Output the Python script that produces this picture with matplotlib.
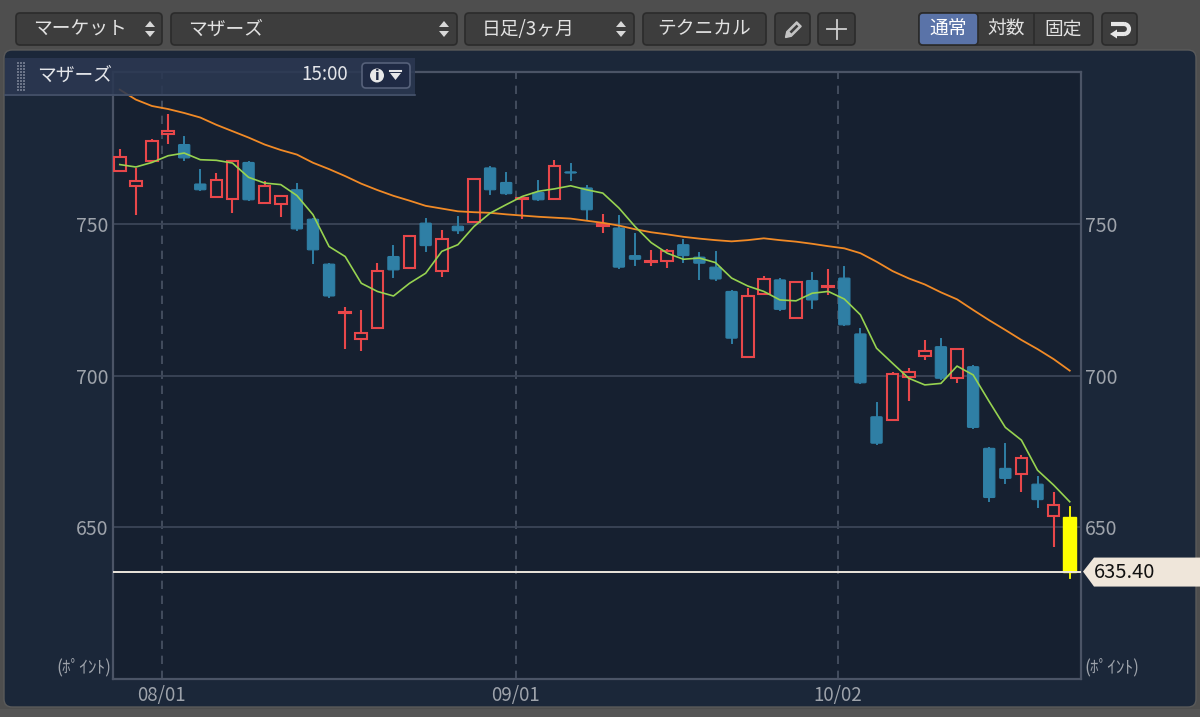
import matplotlib
matplotlib.use('Agg')
import matplotlib.pyplot as plt
from matplotlib.patches import Rectangle, FancyBboxPatch, Polygon, Circle, Arc
import numpy as np

plt.rcParams['font.family'] = ['Noto Sans CJK JP', 'DejaVu Sans']

# ---------------- data ----------------
dates = ["07/27", "07/28", "07/31",
         "08/01", "08/02", "08/03", "08/04", "08/07", "08/08", "08/09", "08/10",
         "08/14", "08/15", "08/16", "08/17", "08/18", "08/21", "08/22", "08/23",
         "08/24", "08/25", "08/28", "08/29", "08/30", "08/31",
         "09/01", "09/04", "09/05", "09/06", "09/07", "09/08", "09/11", "09/12",
         "09/13", "09/14", "09/15", "09/19", "09/20", "09/21", "09/22", "09/25",
         "09/26", "09/27", "09/28", "09/29",
         "10/02", "10/03", "10/04", "10/05", "10/06", "10/10", "10/11", "10/12",
         "10/13", "10/16", "10/17", "10/18", "10/19", "10/20", "10/23"]

opens = [767.5, 762.4, 770.8,
         779.7, 776.1, 763.1, 758.7, 758.3, 770.2, 757.0, 756.5,
         761.2, 751.5, 736.7, 720.7, 712.0, 715.6, 739.2, 735.4,
         750.2, 734.3, 749.2, 750.6, 768.4, 763.6,
         758.2, 760.3, 758.3, 767.0, 761.8, 749.3, 748.6, 739.5,
         737.3, 737.6, 743.1, 739.0, 735.7, 727.7, 706.2, 726.9,
         731.5, 718.9, 731.3, 729.2,
         732.1, 713.7, 686.4, 685.3, 699.6, 706.5, 709.5, 699.1,
         702.9, 676.0, 669.4, 667.5, 664.2, 653.7, 653.4]

highs = [774.6, 768.4, 778.0,
         786.0, 778.5, 767.8, 766.7, 770.8, 770.4, 764.0, 759.4,
         763.2, 751.7, 736.9, 722.7, 721.6, 737.0, 742.8, 746.0,
         751.5, 748.0, 752.1, 765.1, 768.6, 766.7,
         759.0, 764.0, 771.1, 769.7, 762.5, 753.3, 752.4, 746.7,
         741.3, 741.6, 744.5, 740.3, 740.7, 727.9, 728.8, 732.9,
         731.7, 731.0, 733.7, 735.0,
         735.7, 715.2, 690.8, 701.3, 702.4, 711.7, 711.9, 709.0,
         703.1, 676.2, 677.3, 673.8, 666.6, 661.7, 656.7]

lows = [767.3, 753.0, 770.6,
        776.3, 770.9, 761.0, 758.5, 753.7, 757.7, 756.8, 752.2,
        748.0, 737.2, 726.0, 708.6, 708.1, 715.4, 732.6, 735.2,
        741.1, 732.6, 746.9, 750.4, 759.9, 759.7,
        751.5, 757.7, 758.1, 764.5, 751.3, 747.1, 735.5, 736.5,
        736.0, 735.4, 737.4, 731.7, 731.6, 710.8, 706.0, 726.7,
        721.6, 718.7, 722.2, 726.6,
        716.5, 697.4, 677.5, 685.1, 691.7, 705.1, 698.9, 697.6,
        682.7, 658.7, 664.6, 661.7, 656.7, 643.5, 633.3]

closes = [771.9, 764.0, 777.2,
          780.6, 771.7, 761.2, 764.3, 770.6, 757.9, 762.3, 759.2,
          748.3, 741.4, 726.2, 721.0, 714.1, 734.5, 734.8, 745.8,
          742.8, 745.0, 747.7, 764.8, 761.2, 759.9,
          758.5, 757.9, 768.9, 766.7, 754.6, 750.0, 735.7, 738.3,
          737.6, 740.9, 739.5, 737.0, 731.8, 712.3, 726.3, 731.7,
          721.8, 730.8, 724.9, 729.5,
          716.7, 697.6, 677.7, 700.4, 701.1, 708.1, 699.1, 708.7,
          682.9, 659.8, 666.1, 672.9, 659.1, 657.3, 635.4]

ma5 = [769.5, 768.7, 770.2,
       772.4, 773.3, 771.1, 770.9, 770.0, 765.3, 763.4, 762.9,
       759.3, 753.0, 742.5, 739.2, 730.4, 727.7, 726.2, 730.4,
       733.7, 740.9, 743.1, 749.1, 753.5, 756.3,
       759.0, 760.7, 761.5, 762.5, 761.2, 760.1, 755.2, 749.1,
       743.8, 740.3, 738.3, 738.7, 737.2, 732.1, 729.5, 727.7,
       724.9, 724.6, 727.1, 727.7,
       725.2, 720.0, 709.0, 704.0, 699.1, 696.9, 697.4, 703.1,
       700.2, 691.4, 682.9, 678.7, 668.8, 663.9, 658.4]

ma25 = [794.2, 790.9, 788.8,
        787.8, 786.5, 785.0, 782.6, 780.5, 778.4, 776.1, 774.3,
        772.8, 770.1, 768.0, 765.7, 763.2, 761.1, 759.2, 757.6,
        755.9, 755.0, 754.1, 753.8, 753.6, 753.1,
        752.7, 752.3, 752.0, 751.7, 751.0, 750.3, 749.4, 748.2,
        747.2, 746.5, 745.7, 745.1, 744.6, 744.2, 744.6, 745.2,
        744.6, 744.1, 743.4, 742.6,
        741.9, 740.3, 737.5, 734.4, 732.0, 730.0, 727.4, 725.1,
        721.6, 718.2, 715.0, 711.7, 708.7, 705.4, 701.6]

last_price = 635.40
y_ticks = [650, 700, 750]
unit_label = "(ﾎﾟｲﾝﾄ)"

# ---------------- style ----------------
W, H = 1200, 717
C_FRAME = '#4e4e4e'
C_PANEL = '#1b2739'
C_PLOT = '#162030'
C_UP = '#e8474a'
C_DOWN = '#2f7fa5'
C_LAST = '#ffff00'
C_MA5 = '#97d350'
C_MA25 = '#f18a26'
C_GRID = '#3b4557'
C_TXT = '#9ea3ab'

fig = plt.figure(figsize=(W / 100, H / 100), dpi=100, facecolor=C_FRAME)

# background axes in pixel coordinates (top-left origin)
bg = fig.add_axes([0, 0, 1, 1], zorder=0)
bg.set_xlim(0, W)
bg.set_ylim(H, 0)
bg.axis('off')

bg.add_patch(FancyBboxPatch((4, 50), W - 8, 657, boxstyle="round,pad=0,rounding_size=8",
                            fc=C_PANEL, ec='#5a5a5a', lw=1))


def button(x0, x1, y0=13, y1=45, fc='#3d3d3d'):
    bg.add_patch(FancyBboxPatch((x0, y0), x1 - x0, y1 - y0,
                                boxstyle="round,pad=0,rounding_size=4",
                                fc=fc, ec='#2b2b2b', lw=1.2))


def updown(x):
    bg.add_patch(Polygon([[x - 5, 27], [x + 5, 27], [x, 21]], closed=True, fc='#d8d8d8', ec='none'))
    bg.add_patch(Polygon([[x - 5, 31], [x + 5, 31], [x, 37]], closed=True, fc='#d8d8d8', ec='none'))


tb_fs = 13.5
tb_col = '#e2e2e2'
button(16, 162)
bg.text(33, 29, "マーケット", fontsize=tb_fs, color=tb_col, va='center', ha='left')
updown(150)
button(171, 457)
bg.text(188, 29, "マザーズ", fontsize=tb_fs, color=tb_col, va='center', ha='left')
updown(444)
button(465, 634)
bg.text(482, 29, "日足/3ヶ月", fontsize=tb_fs, color=tb_col, va='center', ha='left')
updown(621)
button(643, 766)
bg.text(704.5, 29, "テクニカル", fontsize=tb_fs, color=tb_col, va='center', ha='center')
button(775, 810)
# pencil icon
d = np.array([1, -1]) / np.sqrt(2)
nrm = np.array([1, 1]) / np.sqrt(2)
tip = np.array([785.5, 37.5])
p1 = tip + d * 5 + nrm * 3.2
p2 = tip + d * 5 - nrm * 3.2
p3 = tip + d * 19 - nrm * 3.2
p4 = tip + d * 19 + nrm * 3.2
bg.add_patch(Polygon([tip, p1, p4, p3, p2], closed=True, fc='#c4c4c4', ec='#c4c4c4', lw=1))
bg.add_patch(Polygon([tip + d * 7 + nrm * 1.3, tip + d * 17 + nrm * 1.3,
                      tip + d * 17 - nrm * 1.3, tip + d * 7 - nrm * 1.3],
                     closed=True, fc='#3d3d3d', ec='none'))
button(818, 855)
bg.plot([827, 846], [29, 29], color='#d0d0d0', lw=1.3)
bg.plot([836.5, 836.5], [19.5, 38.5], color='#d0d0d0', lw=1.3)
# segmented control
button(919, 1093)
bg.add_patch(FancyBboxPatch((919, 13), 59, 32, boxstyle="round,pad=0,rounding_size=4",
                            fc='#5a73a8', ec='#2b2b2b', lw=1.2))
bg.plot([1034, 1034], [14, 44], color='#2b2b2b', lw=1.2)
bg.text(948.5, 29, "通常", fontsize=tb_fs, color='white', va='center', ha='center')
bg.text(1006, 29, "対数", fontsize=tb_fs, color=tb_col, va='center', ha='center')
bg.text(1063.5, 29, "固定", fontsize=tb_fs, color=tb_col, va='center', ha='center')
button(1102, 1137)
bg.plot([1111, 1124], [24, 24], color='#e6e6e6', lw=3, solid_capstyle='butt')
bg.add_patch(Arc((1124, 29), 10, 10, theta1=-90, theta2=90, color='#e6e6e6', lw=3))
bg.plot([1124, 1116], [34, 34], color='#e6e6e6', lw=3, solid_capstyle='butt')
bg.add_patch(Polygon([[1110, 34], [1117, 29.5], [1117, 38.5]], closed=True, fc='#e6e6e6', ec='none'))

# bottom strip
bg.add_patch(Rectangle((0, 709), W, 8, fc='#555555', ec='none'))

# ---------------- main chart ----------------
ax = fig.add_axes([113 / W, 1 - 679 / H, (1081 - 113) / W, (679 - 72) / H], zorder=1)
ax.set_facecolor(C_PLOT)
x = np.arange(len(dates))
ax.set_xlim(-0.42, 59.7)
ax.set_ylim(600, 800)

# month separators
month_pos = [i for i in range(1, len(dates)) if dates[i][:2] != dates[i - 1][:2]]
for i in month_pos:
    ax.axvline(i - 0.4, color='#4a5466', lw=1.2, ls=(0, (5, 4)), zorder=1)
for yv in y_ticks:
    ax.axhline(yv, color=C_GRID, lw=1.3, zorder=1)

# candles
bw = 0.8
n = len(dates)
for i in range(n):
    o, h, l, c = opens[i], highs[i], lows[i], closes[i]
    top, bot = max(o, c), min(o, c)
    if i == n - 1:
        col = C_LAST
        ax.plot([x[i], x[i]], [l, h], color=col, lw=1.3, zorder=3)
        ax.add_patch(Rectangle((x[i] - bw / 2, bot), bw, top - bot, fc=col, ec=col, lw=1.0, zorder=4))
    elif c >= o:
        col = C_UP
        ax.plot([x[i], x[i]], [top, h], color=col, lw=1.5, zorder=3, solid_capstyle='butt')
        ax.plot([x[i], x[i]], [l, bot], color=col, lw=1.5, zorder=3, solid_capstyle='butt')
        ax.add_patch(Rectangle((x[i] - bw / 2 + 0.04, bot), bw - 0.08, max(top - bot, 0.3),
                               fc=C_PLOT, ec=col, lw=1.5, zorder=4))
    else:
        col = C_DOWN
        ax.plot([x[i], x[i]], [l, h], color=col, lw=1.4, zorder=3)
        ax.add_patch(FancyBboxPatch((x[i] - bw / 2 + 0.05, bot), bw - 0.1, max(top - bot, 0.4),
                                    boxstyle="round,pad=0,rounding_size=0.08",
                                    mutation_aspect=3.0, fc=col, ec=col, lw=0.8, zorder=4))

ax.plot(x, ma25, color=C_MA25, lw=1.3, zorder=5)
ax.plot(x, ma5, color=C_MA5, lw=1.2, zorder=5)
ax.axhline(last_price, color='#ece6dc', lw=1.4, zorder=6)

ax.set_yticks(y_ticks)
ax.set_yticklabels([str(v) for v in y_ticks])
ax.set_xticks([i - 0.4 for i in month_pos])
ax.set_xticklabels([dates[i] for i in month_pos])
ax.tick_params(axis='y', which='both', length=0, labelleft=True, labelright=True,
               labelsize=14, labelcolor=C_TXT, pad=3)
ax.tick_params(axis='x', length=0, labelsize=13.5, labelcolor=C_TXT, pad=4)
for s in ax.spines.values():
    s.set_color('#4b5466')
    s.set_linewidth(1.6)

# ---------------- overlay ----------------
ov = fig.add_axes([0, 0, 1, 1], zorder=3)
ov.set_xlim(0, W)
ov.set_ylim(H, 0)
ov.axis('off')
ov.patch.set_alpha(0)

# header bar
ov.add_patch(Rectangle((5, 58), 410, 38, fc='#2b3852', ec='none', alpha=0.88))
ov.plot([5, 415], [95, 95], color='#46526a', lw=1.2)
for gx in (18, 21, 24):
    for gy in range(63, 93, 3):
        ov.add_patch(Rectangle((gx - 0.8, gy - 0.8), 1.6, 1.6, fc='#6b7488', ec='none'))
ov.text(37, 75, "マザーズ", fontsize=13.5, color='#e4e6ea', va='center', ha='left')
ov.text(348, 75, "15:00", fontsize=13.5, color='#e4e6ea', va='center', ha='right')
ov.add_patch(FancyBboxPatch((362, 63), 48, 25, boxstyle="round,pad=0,rounding_size=4",
                            fc='#1f2a44', ec='#56617a', lw=1.2))
ov.add_patch(Circle((377, 75.5), 7, fc='#e8e8e8', ec='none'))
ov.text(377, 76, "i", fontsize=10, color='#1f2a44', va='center', ha='center', fontweight='bold',
        family=['DejaVu Sans'])
ov.add_patch(Polygon([[390, 73], [401, 73], [395.5, 80]], closed=True, fc='#e8e8e8', ec='none'))
ov.plot([390, 401], [70.5, 70.5], color='#e8e8e8', lw=1.5)

# unit labels
ov.text(111, 667, unit_label, fontsize=12.5, color=C_TXT, va='center', ha='right')
ov.text(1084, 667, unit_label, fontsize=12.5, color=C_TXT, va='center', ha='left')

# last price label
yl = 679 - (last_price - 600) / 200 * (679 - 72)
ov.add_patch(Polygon([[1083, yl], [1094, yl - 14], [1200, yl - 14], [1200, yl + 15], [1094, yl + 15]],
                     closed=True, fc='#efe6da', ec='none'))
ov.text(1094, yl + 0.5, f"{last_price:.2f}", fontsize=14.5, color='#111111', va='center', ha='left')

fig.savefig('out.png', dpi=100, facecolor=C_FRAME)
